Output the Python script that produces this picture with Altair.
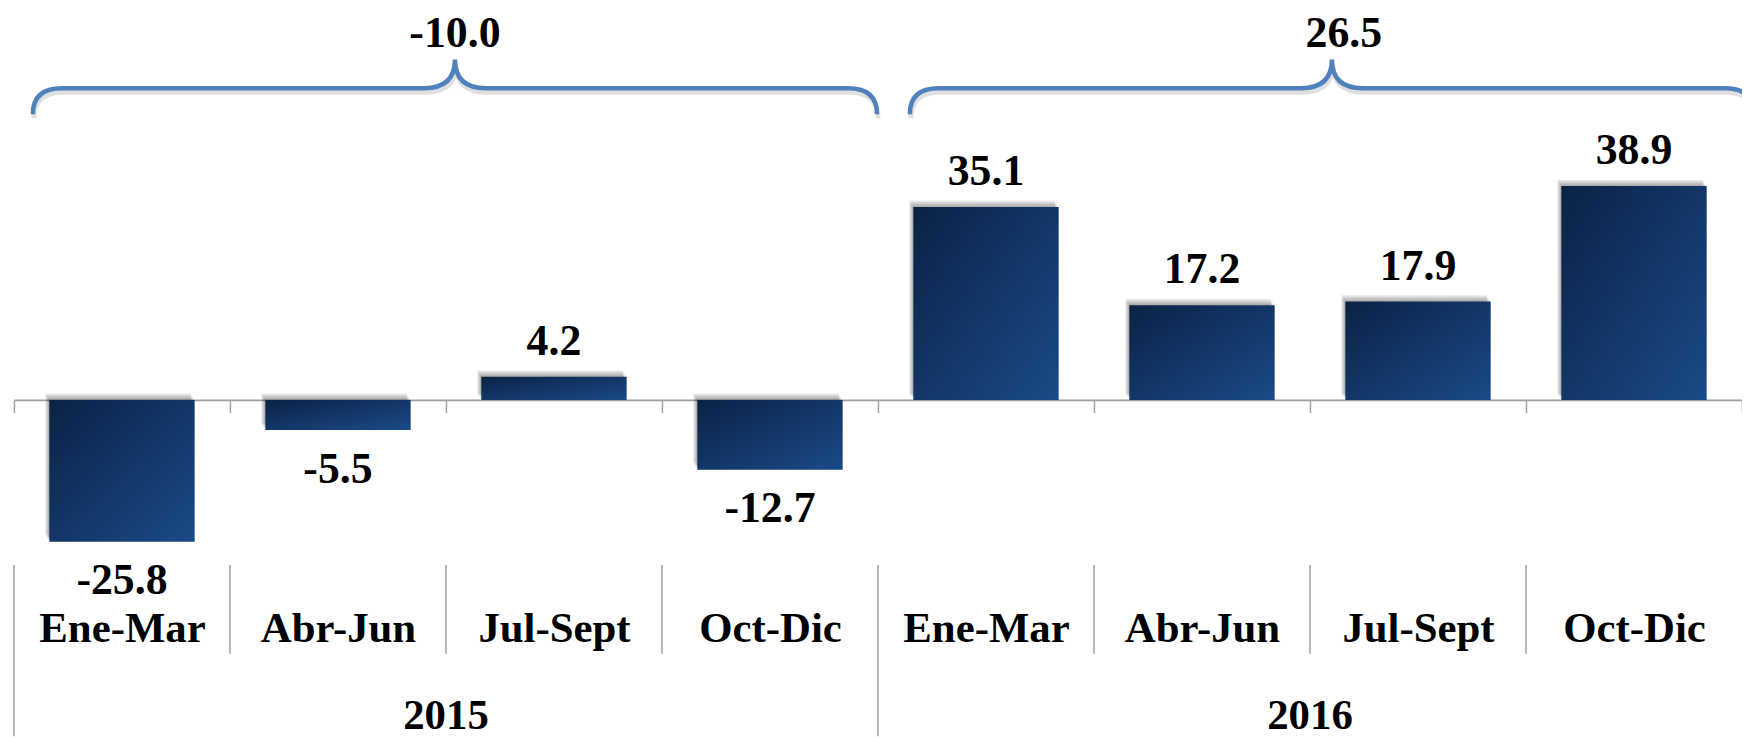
import altair as alt
import pandas as pd

# ---------------- data ----------------
years = ["2015", "2016"]
quarters = ["Ene-Mar", "Abr-Jun", "Jul-Sept", "Oct-Dic"]
values_2015 = [-25.8, -5.5, 4.2, -12.7]
values_2016 = [35.1, 17.2, 17.9, 38.9]
annual = [-10.0, 26.5]

rows = []
for y, vals in zip(years, [values_2015, values_2016]):
    for qi, (q, v) in enumerate(zip(quarters, vals)):
        rows.append({"key": f"{y}|{q}", "year": y, "quarter": q, "qi": qi, "value": v})
df = pd.DataFrame(rows)
keys = list(df["key"])

ydf = pd.DataFrame({
    "year": years,
    "annual": annual,
    "mid": [f"{y}|{quarters[2]}" for y in years],
})

# ---------------- style ----------------
FONT = "Liberation Serif"
BRACE_BLUE = "#4f81bd"
GRID_GRAY = "#a0a0a0"
brace_path = ("M -1 0.0613 Q -1 0 -0.9316 0 L -0.073 0 Q 0 0 0 -0.068 "
              "Q 0 0 0.073 0 L 0.9316 0 Q 1 0 1 0.0613")
BRACE_SIZE = 848 ** 2
brace_dx = {"2015": 9, "2016": 22}
label_dx = {"2015": 9, "2016": 34}

xscale = alt.Scale(domain=keys, paddingInner=0, paddingOuter=0)
yscale = alt.Scale(domain=[0, 71], nice=False)

x_axis = alt.Axis(
    title=None, orient="bottom",
    labelExpr="split(datum.label, '|')[1]",
    labelFont=FONT, labelFontWeight="bold", labelFontSize=43, labelColor="black",
    labelBaseline="alphabetic", labelPadding=230, labelAngle=0, labelOverlap=False,
    tickBand="extent", tickSize=13, tickColor=GRID_GRAY, tickWidth=1.5,
    domainColor=GRID_GRAY, domainWidth=2, grid=False,
)

def X(field="key", band=0.5):
    return alt.X(f"{field}:N", scale=xscale, sort=keys, bandPosition=band, axis=x_axis)

Y = alt.Y("value:Q", scale=yscale, axis=None)

base = alt.Chart(df).transform_calculate(
    label="(datum.value < 0 ? '-' : '') + format(abs(datum.value), '.1f')"
)

layers = []

# soft shadow behind the bars
for k in range(1, 5):
    layers.append(
        base.mark_bar(
            color="#000000", opacity=0.09, width=alt.RelativeBandSize(0.673),
            xOffset=-k, x2Offset=-k, yOffset=-1.6 * k, y2Offset=-1.6 * k,
        ).encode(x=X(band=0.5), y=Y)
    )

bar_fill = alt.Gradient(
    gradient="linear",
    stops=[alt.GradientStop(color="#0b2246", offset=0),
           alt.GradientStop(color="#1a4a87", offset=1)],
    x1=0, y1=0, x2=1, y2=1,
)
bars = base.mark_bar(color=bar_fill, width=alt.RelativeBandSize(0.673)).encode(
    x=X(band=0.5), y=Y
)
layers.append(bars)

txt = dict(font=FONT, fontWeight="bold", fontSize=44, color="black", baseline="alphabetic")
pos_labels = base.transform_filter("datum.value >= 0").mark_text(dy=-22, **txt).encode(
    x=X(band=0.5), y=Y, text="label:N")
neg_labels = base.transform_filter("datum.value < 0").mark_text(dy=53, **txt).encode(
    x=X(band=0.5), y=Y, text="label:N")
layers += [pos_labels, neg_labels]

# separators between category labels
inner_sep = alt.Chart(df).transform_filter("datum.qi > 0").mark_rule(
    color=GRID_GRAY, strokeWidth=1.5).encode(
    x=X(band=0), y=alt.value(558), y2=alt.value(647))
outer_sep = alt.Chart(df).transform_filter("datum.qi == 0").mark_rule(
    color=GRID_GRAY, strokeWidth=1.5).encode(
    x=X(band=0), y=alt.value(558), y2=alt.value(730))
layers += [inner_sep, outer_sep]

# year labels
year_labels = alt.Chart(ydf).mark_text(**{**txt, "fontSize": 43}).encode(
    x=X("mid", band=0), y=alt.value(723), text="year:N")
layers.append(year_labels)

# braces with annual values
ybase = alt.Chart(ydf).transform_calculate(
    alabel="(datum.annual < 0 ? '-' : '') + format(abs(datum.annual), '.1f')"
)
for yr in years:
    sel = ybase.transform_filter(f"datum.year == '{yr}'")
    layers.append(sel.mark_point(
        shape=brace_path, size=BRACE_SIZE, filled=False, color="#000000",
        stroke="#000000", strokeWidth=5, opacity=0.12,
        xOffset=brace_dx[yr] + 1, yOffset=4,
    ).encode(x=X("mid", band=0), y=alt.value(79)))
    layers.append(sel.mark_point(
        shape=brace_path, size=BRACE_SIZE, filled=False, color=BRACE_BLUE,
        stroke=BRACE_BLUE, strokeWidth=4.5, opacity=1, xOffset=brace_dx[yr],
    ).encode(x=X("mid", band=0), y=alt.value(79)))
    layers.append(sel.mark_text(dx=label_dx[yr], **txt).encode(
        x=X("mid", band=0), y=alt.value(37), text="alabel:N"))

chart = alt.layer(*layers).properties(
    width=1736, height=392,
    autosize=alt.AutoSizeParams(type="none"),
    padding={"left": 6, "top": 0, "right": 0, "bottom": 338},
).configure_view(strokeWidth=0)

chart.save("out.html", embed_options={"renderer": "svg", "actions": False})
